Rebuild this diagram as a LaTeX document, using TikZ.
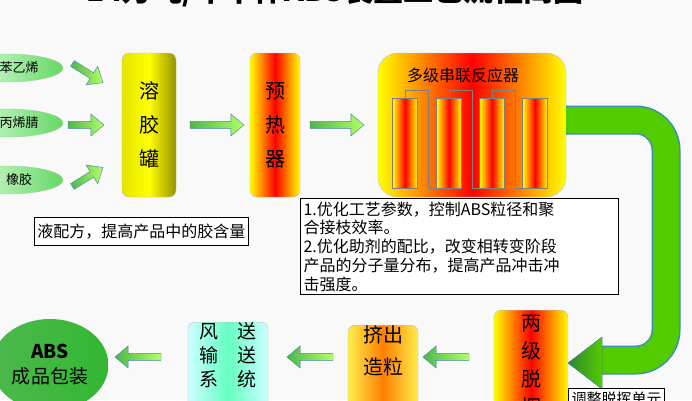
\documentclass[tikz,border=0pt]{standalone}
\usepackage{fontspec}
\setmainfont{Noto Sans CJK SC}
\usetikzlibrary{shapes.geometric,shapes.arrows}
\tikzset{
  feed/.style={ellipse,draw=green!60!black!40,minimum width=110pt,minimum height=28pt,left color=green!8,right color=green!75!black!60,font=\fontsize{13}{14}\selectfont},
  vbox/.style={rounded corners=7pt,draw=black!25,font=\fontsize{20}{22}\selectfont,align=center,inner sep=0pt},
  hot/.style={vbox,left color=yellow,right color=yellow,middle color=red},
  tube/.style={draw=gray,left color=yellow,right color=yellow,middle color=red,minimum width=25pt,minimum height=90pt,inner sep=0pt},
  barrow/.style={single arrow,draw=cyan!60!black,left color=green!60!black!70,right color=green!50!yellow!60,minimum height=36pt,minimum width=22pt,single arrow head extend=5pt,inner sep=2pt,single arrow tip angle=80},
  note/.style={draw=black,line width=1.2pt,fill=white,align=left,font=\fontsize{16}{18.8}\selectfont,inner sep=3pt},
  link/.style={draw=gray,thin}
}
\begin{document}
\begin{tikzpicture}[x=1pt,y=-1pt]
\useasboundingbox (0,0) rectangle (692,400);
\clip (0,0) rectangle (692,400);
\fill[green!3!gray!5] (0,0) rectangle (692,400);
\node (title) at (335,-9) {\fontsize{30}{32}\selectfont\bfseries 14万吨/年本体ABS装置工艺流程简图};
% feeds
\node[feed] (f1) at (8,68) {\hspace*{22pt}苯乙烯};
\node[feed] (f2) at (8,123) {\hspace*{22pt}丙烯腈};
\node[feed] (f3) at (8,180) {\hspace*{22pt}橡胶};
% tanks
\node[vbox,left color=yellow!90!black,right color=olive!85!yellow,middle color=yellow,minimum width=54pt,minimum height=144pt] (rj) at (149,125) {溶\\[12pt]胶\\[12pt]罐};
\node[hot,minimum width=50pt,minimum height=144pt] (yr) at (275,125) {预\\[12pt]热\\[12pt]器};
\node[vbox,left color=yellow,right color=yellow,middle color=red,rounded corners=20pt,minimum width=188pt,minimum height=144pt] (re) at (472,125) {};
\node[font=\fontsize{16}{18}\selectfont] (ret) at (463,75) {多级串联反应器};
\node[tube] (t1) at (405,143) {};
\node[tube] (t2) at (449,143) {};
\node[tube] (t3) at (492,143) {};
\node[tube] (t4) at (535,143) {};
\draw[link] (t1.north) |- ++(0,-8) -| ([xshift=10pt]t1.north east) |- (t2.south west);
\draw[link] (t2.north) |- ++(0,-8) -| ([xshift=10pt]t2.north east) |- (t3.south west);
\draw[link] (t3.north) |- ++(0,-8) -| ([xshift=10pt]t3.north east) |- (t4.south west);
% feed arrows
\node[barrow,rotate=-32] (a1) at (86,72) {};
\node[barrow] (a2) at (84,125) {};
\node[barrow,rotate=32] (a3) at (86,178) {};
\node[barrow,minimum height=54pt] (a4) at (215,125) {};
\node[barrow,minimum height=54pt] (a5) at (335,125) {};
% pipe
\coordinate (p0) at (566,120);
\coordinate (p1) at (600,360);
\draw[cyan!70!black,line width=29pt] (p0) -- (636,120) arc[start angle=-90,end angle=0,radius=30] -- (666,330) arc[start angle=0,end angle=90,radius=30] -- (p1);
\draw[green!60!yellow!80!black,line width=26pt] (p0) -- (636,120) arc[start angle=-90,end angle=0,radius=30] -- (666,330) arc[start angle=0,end angle=90,radius=30] -- (p1);
\fill[left color=green!40!black!80,right color=green!60!yellow!80!black,draw=cyan!70!black] (602,337) -- (568,363) -- (602,389) -- cycle;
% notes
\node[note,anchor=north west,text width=312pt] (n1) at (300,198) {1.优化工艺参数，控制ABS粒径和聚\\合接枝效率。\\2.优化助剂的配比，改变相转变阶段\\产品的分子量分布，提高产品冲击冲\\击强度。};
\node[note,anchor=north east,minimum height=28pt] (n2) at (249,217) {液配方，提高产品中的胶含量};
% bottom row
\node[hot,anchor=north,minimum width=74pt,minimum height=110pt] (tj) at (531,310) {两\\[6pt]级\\[6pt]脱\\[6pt]挥};
\node[note,anchor=north west,font=\fontsize{15}{16}\selectfont] (n3) at (568,388) {调整脱挥单元};
\node[vbox,anchor=north,left color=orange!20!yellow!70,right color=orange!20!yellow!70,middle color=orange,minimum width=70pt,minimum height=90pt] (jc) at (383,325) {挤出\\[10pt]造粒\\[18pt]};
\node[vbox,anchor=north,left color=cyan!20,right color=cyan!20,middle color=cyan!60!green!60,minimum width=80pt,minimum height=90pt,font=\fontsize{19}{20}\selectfont] (fs) at (228,322) {风\quad 送\\[4pt]输\quad 送\\[4pt]系\quad 统\\[8pt]};
\node[ellipse,left color=green!60!black!70,right color=green!65!black!80,minimum width=116pt,minimum height=92pt,font=\fontsize{19}{21}\selectfont,align=center] (abs) at (50,365) {\bfseries ABS\\[4pt]成品包装};
\node[barrow,shape border rotate=180,minimum height=46pt] (b1) at (448,357) {};
\node[barrow,shape border rotate=180,minimum height=46pt] (b2) at (312,357) {};
\node[barrow,shape border rotate=180,minimum height=46pt] (b3) at (140,357) {};
\end{tikzpicture}
\end{document}
